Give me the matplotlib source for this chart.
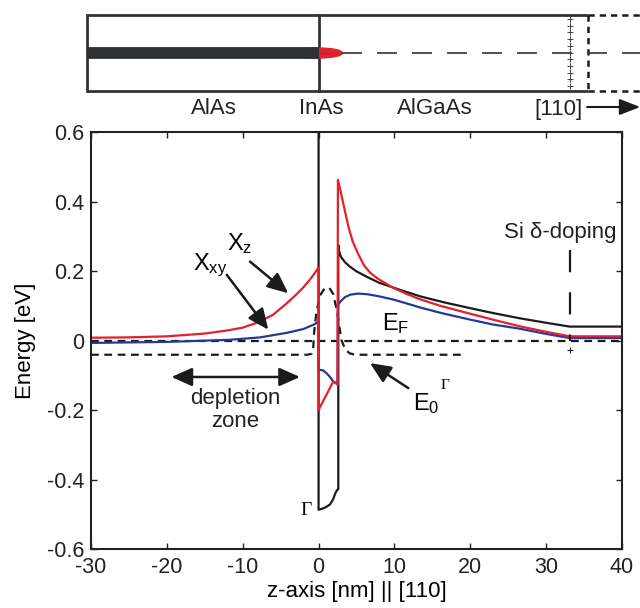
import matplotlib
matplotlib.use("Agg")
import matplotlib.pyplot as plt
import numpy as np
from matplotlib.patches import Ellipse

plt.rcParams['font.family'] = ['Liberation Sans', 'DejaVu Sans']
plt.rcParams['axes.unicode_minus'] = False
plt.rcParams['mathtext.fontset'] = 'custom'
plt.rcParams['mathtext.rm'] = 'Liberation Sans'

RED = '#e3202c'
BLUE = '#23399a'
BLK = '#1b1b1b'
FS = 16

# --- band profiles (z in nm, energy in eV) ---
# Gamma conduction band
gam_z = [0, 0, 0.5, 1.0, 1.5, 1.9, 2.2, 2.45, 2.6, 2.6, 2.7, 2.85, 3.0, 3.5, 4.1,
         5.0, 6.3, 8.0, 10.7, 13.4, 16.5, 20, 23, 26.5, 30, 33.1, 40]
gam_e = [0.7, -0.487, -0.484, -0.479, -0.472, -0.458, -0.44, -0.43, -0.428, 0.275,
         0.258, 0.246, 0.239, 0.225, 0.213, 0.199, 0.184, 0.166, 0.146, 0.127,
         0.11, 0.093, 0.079, 0.064, 0.051, 0.04, 0.04]
# X_z valley
xz_z = [-30, -25, -20, -15, -12, -10, -8, -6, -4.2, -3, -2, -1, 0, 0, 1.94, 2.5,
        2.55, 2.8, 3.1, 3.5, 4.0, 4.5, 5.2, 6.0, 6.8, 7.8, 8.8, 9.8, 11.5, 13.2,
        16, 20, 23, 26.5, 30, 33.1, 40]
xz_e = [0.008, 0.009, 0.012, 0.02, 0.029, 0.037, 0.052, 0.074, 0.107, 0.131,
        0.153, 0.179, 0.21, -0.2, -0.118, -0.127,
        0.462, 0.44, 0.41, 0.37, 0.322, 0.285, 0.25, 0.216, 0.195, 0.178, 0.165,
        0.152, 0.135, 0.12, 0.1, 0.077, 0.06, 0.041, 0.025, 0.012, 0.012]
# X_xy valley
xxy_z = [-30, -20, -11.7, -7.7, -4.2, -2, -0.5, 0, 0, 0.6, 1.1, 1.5, 1.94, 2.5,
         2.55, 3.0, 3.5, 4.2, 5.2, 6.5, 8, 10, 13.4, 16, 20, 23, 26.5, 30, 33.1, 40]
xxy_e = [-0.007, -0.004, 0.002, 0.009, 0.022, 0.033, 0.047, 0.055, -0.084, -0.086,
         -0.095, -0.105, -0.118, -0.125,
         0.103, 0.115, 0.125, 0.132, 0.135, 0.133, 0.127, 0.117, 0.095, 0.08,
         0.06, 0.046, 0.034, 0.019, 0.007, 0.007]
# ground state E0 (Gamma)
e0_z = [-30, -1.5, -0.9, -0.7, -0.6, -0.3, 0.2, 0.8, 1.4, 1.9, 2.4, 3.0, 3.5,
        4.1, 4.8, 19.0]
e0_e = [-0.041, -0.041, -0.038, -0.02, 0.02, 0.08, 0.13, 0.15, 0.152, 0.135,
        0.088, 0.002, -0.025, -0.037, -0.041, -0.041]
ef_z = [-30, 40]
ef_e = [0, 0]
doping_z = 33.1
doping_e = [0.26, 0.0]

xticks = [-30, -20, -10, 0, 10, 20, 30, 40]
yticks = [-0.6, -0.4, -0.2, 0, 0.2, 0.4, 0.6]
ylabels = ['-0.6', '-0.4', '-0.2', '0', '0.2', '0.4', '0.6']

fig = plt.figure(figsize=(6.4, 6.08), dpi=100)

# ---------------- main band diagram ----------------
ax = fig.add_axes([91 / 640, 1 - 549 / 608, 531 / 640, 417 / 608])
ax.set_xlim(-30, 40)
ax.set_ylim(-0.6, 0.6)

ax.plot(ef_z, ef_e, color=BLK, lw=1.6, dashes=(3.5, 2.5))
ax.plot(e0_z, e0_e, color=BLK, lw=1.6, dashes=(3.5, 2.5))
ax.plot(gam_z, gam_e, color=BLK, lw=1.6)
ax.plot(xxy_z, xxy_e, color=BLUE, lw=1.6)
ax.plot(xz_z, xz_e, color=RED, lw=1.6)
ax.plot([doping_z, doping_z], doping_e, color=BLK, lw=1.6, dashes=(10, 9))
ax.plot([doping_z], [-0.028], marker='+', color=BLK, ms=5, mew=0.8)

ax.set_xticks(xticks)
ax.set_yticks(yticks)
ax.set_yticklabels(ylabels)
ax.tick_params(direction='in', length=4, width=1, labelsize=FS - 0.5,
               top=True, right=True, colors='#222222')
ax.tick_params(axis='x', pad=6)
ax.tick_params(axis='y', pad=5)
for s in ax.spines.values():
    s.set_linewidth(1.5)
    s.set_color('#222222')
ax.set_xlabel('z-axis [nm] || [110]', fontsize=FS, labelpad=2)
ax.set_ylabel('Energy [eV]', fontsize=FS, labelpad=8)

# labels and arrows
arr = dict(arrowstyle='-|>,head_length=0.9,head_width=0.4', color=BLK, lw=1.8,
           shrinkA=0, shrinkB=0, mutation_scale=14)
ax.text(-12.05, 0.26, r'$\mathregular{X_z}$', fontsize=FS + 1, va='baseline')
ax.annotate('', xy=(-4.0, 0.136), xytext=(-9.04, 0.227), arrowprops=arr)
ax.text(-16.55, 0.203, r'$\mathregular{X_{xy}}$', fontsize=FS + 1, va='baseline')
ax.annotate('', xy=(-6.63, 0.031), xytext=(-12.1, 0.189), arrowprops=arr)
ax.text(8.35, 0.031, r'$\mathregular{E_F}$', fontsize=FS + 1, va='baseline')
ax.text(12.45, -0.2, r'$\mathregular{E_0}$', fontsize=FS + 1, va='baseline')
ax.text(16.1, -0.13, 'Γ', fontsize=11, family='Liberation Serif', va='center')
ax.annotate('', xy=(6.78, -0.065), xytext=(11.83, -0.137), arrowprops=arr)
ax.text(-1.7, -0.488, 'Γ', fontsize=14, family='Liberation Serif',
        ha='center', va='center')

ax.annotate('', xy=(-19.4, -0.105), xytext=(-2.45, -0.105),
            arrowprops=dict(arrowstyle='<|-|>,head_length=0.9,head_width=0.4',
                            color=BLK, lw=1.8, shrinkA=0, shrinkB=0,
                            mutation_scale=14))
ax.text(-11.0, -0.2, 'depletion\nzone', fontsize=FS, ha='center', va='center',
        linespacing=1.15, color='#222222')
ax.text(39.3, 0.31, 'Si δ-doping', fontsize=FS, ha='right', va='center',
        color='#222222')

# ---------------- layer schematic on top ----------------
px = 531 / 70.0
top = fig.add_axes([0, 1 - 130 / 608, 1, 130 / 608])
top.set_xlim(-30 - 91 / px, 40 + 18 / px)
top.set_ylim(130, 0)
top.axis('off')

box_l, box_r, y_t, y_b, y_c = -30.5, 35.5, 15, 91, 53
lc = '#333333'
top.plot([box_l, box_r], [y_t, y_t], color=lc, lw=2, solid_capstyle='butt')
top.plot([box_l, box_r], [y_b, y_b], color=lc, lw=2, solid_capstyle='butt')
top.plot([box_l, box_l], [y_t, y_b], color=lc, lw=2)
top.plot([0, 0], [y_t, y_b], color=lc, lw=2)
# dashed continuation of the sample
top.plot([box_r, box_r], [y_t, y_b], color=BLK, lw=1.8, dashes=(2.5, 2))
top.plot([box_r, 43], [y_t, y_t], color=BLK, lw=1.8, dashes=(2.5, 2))
top.plot([box_r, 43], [y_b, y_b], color=BLK, lw=1.8, dashes=(2.5, 2))

# InAs layer and wetting layer
top.add_patch(Ellipse((0, y_c), 2 * 3.15, 10, color=RED, zorder=2))
top.plot([box_l, 0], [y_c, y_c], color='#2d3133', lw=8.5, solid_capstyle='butt',
         zorder=3)
top.plot([0, 2.4], [y_c, y_c], color='#555555', lw=0.8, zorder=3)
top.plot([3.15, 43], [y_c, y_c], color='#333333', lw=1.2, dashes=(12, 9))

# doping plane
top.plot([doping_z, doping_z], [19, 87], color='#555555', lw=0.8, ls=':')
top.plot(np.full(11, doping_z), np.linspace(19, 86, 11), ls='none', marker='+',
         color='#444444', ms=4, mew=0.7)

for lab, xx in [('AlAs', -13.8), ('InAs', 0.3), ('AlGaAs', 15.3), ('[110]', 31.6)]:
    top.text(xx, 109, lab, fontsize=FS, ha='center', va='center', color='#222222')
top.annotate('', xy=(42.4, 107), xytext=(35.4, 107),
             arrowprops=dict(arrowstyle='-|>,head_length=0.9,head_width=0.35',
                             color=BLK, lw=1.5, shrinkA=0, shrinkB=0,
                             mutation_scale=14), annotation_clip=False)

fig.savefig('out.png', dpi=100)
